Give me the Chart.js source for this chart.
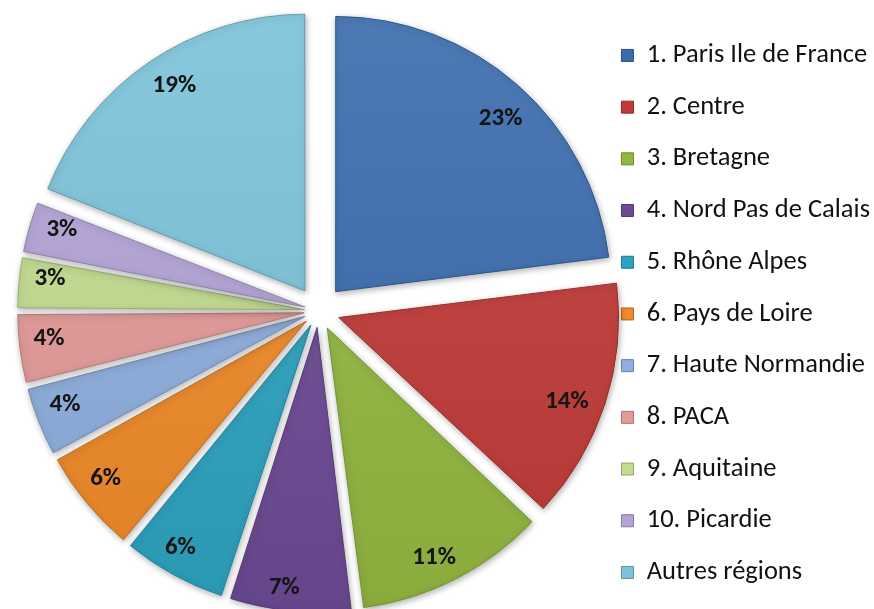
<!DOCTYPE html>
<html>
<head>
<meta charset="utf-8">
<script src="https://cdn.jsdelivr.net/npm/chart.js@4.4.1/dist/chart.umd.min.js"></script>
<style>
  html, body { margin: 0; padding: 0; background: #ffffff; }
  #wrap { width: 874px; height: 609px; }
</style>
</head>
<body>
<div id="wrap"><canvas id="canvas"></canvas></div>
<script>
// regions and their share (%)
const regions = ['1. Paris Ile de France', '2. Centre', '3. Bretagne', '4. Nord Pas de Calais',
                 '5. Rhône Alpes', '6. Pays de Loire', '7. Haute Normandie', '8. PACA',
                 '9. Aquitaine', '10. Picardie', 'Autres régions'];
const shares = [23, 14, 11, 7, 6, 6, 4, 4, 3, 3, 19];
const slice_colors = ['#3a6cae', '#c13a37', '#92b83f', '#6d4a94', '#2ca3c0', '#f08a28',
                      '#8eaedf', '#e39a98', '#c2dc8f', '#b3a3d6', '#7cc3da'];

const FONT = 'Carlito, Lato, sans-serif';
const PIE_RADIUS = 275;
const EXPLODE_PX = 26;   // how far every slice is pulled out
const LABEL_SIZE = 25;
const LABEL_TURN = 0.03; // labels sit a little clockwise of the slice middle

function shade(hex, amt) {
    // amt > 0 lightens, amt < 0 darkens
    let r = parseInt(hex.substr(1, 2), 16);
    let g = parseInt(hex.substr(3, 2), 16);
    let b = parseInt(hex.substr(5, 2), 16);
    const t = amt < 0 ? 0 : 255;
    const p = Math.abs(amt);
    r = Math.round((t - r) * p + r);
    g = Math.round((t - g) * p + g);
    b = Math.round((t - b) * p + b);
    return `rgb(${r},${g},${b})`;
}

function slice_fill(context) {
    const chart = context.chart;
    const area = chart.chartArea;
    const base = slice_colors[context.dataIndex % slice_colors.length];
    if (!area) {
        return base;
    }
    const grad = chart.ctx.createLinearGradient(0, 0, 0, chart.height);
    grad.addColorStop(0, shade(base, 0.1));
    grad.addColorStop(1, shade(base, -0.07));
    return grad;
}

// chart.js pushes thin slices further out, so undo that to get one even gap
function slice_offset(context) {
    const total = shares.reduce((a, b) => a + b, 0);
    const circ = shares[context.dataIndex] / total * 2 * Math.PI;
    const fix = 1 - Math.sin(Math.min(Math.PI, circ));
    return 4 * EXPLODE_PX / (1 + fix);
}

// percentages written inside each slice, near the rim ("inside end")
const slice_labels = {
    id: 'slice_labels',
    afterDatasetsDraw(chart) {
        const ctx = chart.ctx;
        const meta = chart.getDatasetMeta(0);
        ctx.save();
        ctx.font = 'bold ' + LABEL_SIZE + 'px ' + FONT;
        ctx.fillStyle = '#141414';
        ctx.textAlign = 'center';
        ctx.textBaseline = 'alphabetic';
        const half_h = LABEL_SIZE * 0.32;
        meta.data.forEach((arc, i) => {
            const p = arc.getProps(['x', 'y', 'startAngle', 'endAngle', 'outerRadius']);
            const mid = (p.startAngle + p.endAngle) / 2 + LABEL_TURN;
            const txt = shares[i] + '%';
            const half_w = ctx.measureText(txt).width / 2;
            const c = Math.cos(mid), s = Math.sin(mid);
            const edge = p.outerRadius + EXPLODE_PX - 14;
            const r = edge - (half_w * Math.abs(c) + half_h * Math.abs(s));
            ctx.fillText(txt, p.x + c * r, p.y + s * r + half_h);
        });
        ctx.restore();
    }
};

// soft shadow under the slices
const slice_shadow = {
    id: 'slice_shadow',
    beforeDatasetsDraw(chart) {
        const ctx = chart.ctx;
        ctx.save();
        ctx.shadowColor = 'rgba(0,0,0,0.3)';
        ctx.shadowBlur = 6;
        ctx.shadowOffsetX = 1;
        ctx.shadowOffsetY = 2;
    },
    afterDatasetsDraw(chart) {
        chart.ctx.restore();
    }
};

const ctx = document.getElementById('canvas').getContext('2d');
const pie_chart = new Chart(ctx, {
    type: 'pie',
    data: {
        labels: regions,
        datasets: [{
            data: shares,
            backgroundColor: slice_fill,
            borderColor: slice_colors.map(c => shade(c, -0.2)),
            borderWidth: 1,
            offset: slice_offset,
            radius: PIE_RADIUS,
            clip: false
        }]
    },
    options: {
        responsive: true,
        maintainAspectRatio: false,
        animation: false,
        layout: {
            padding: {top: 13, bottom: -6, left: 41, right: -6}
        },
        plugins: {
            tooltip: {enabled: false},
            legend: {
                position: 'right',
                align: 'start',
                title: {display: true, text: '', padding: {top: 2, bottom: 2}, font: {size: 0}},
                labels: {
                    color: '#111111',
                    font: {family: FONT, size: 26.5},
                    boxWidth: 12,
                    boxHeight: 12,
                    padding: 25.2,
                    generateLabels(chart) {
                        return regions.map((name, i) => ({
                            text: name,
                            fillStyle: slice_colors[i],
                            strokeStyle: shade(slice_colors[i], -0.25),
                            fontColor: '#111111',
                            lineWidth: 1,
                            hidden: false,
                            index: i
                        }));
                    }
                }
            }
        }
    },
    plugins: [slice_shadow, slice_labels]
});
</script>
</body>
</html>
